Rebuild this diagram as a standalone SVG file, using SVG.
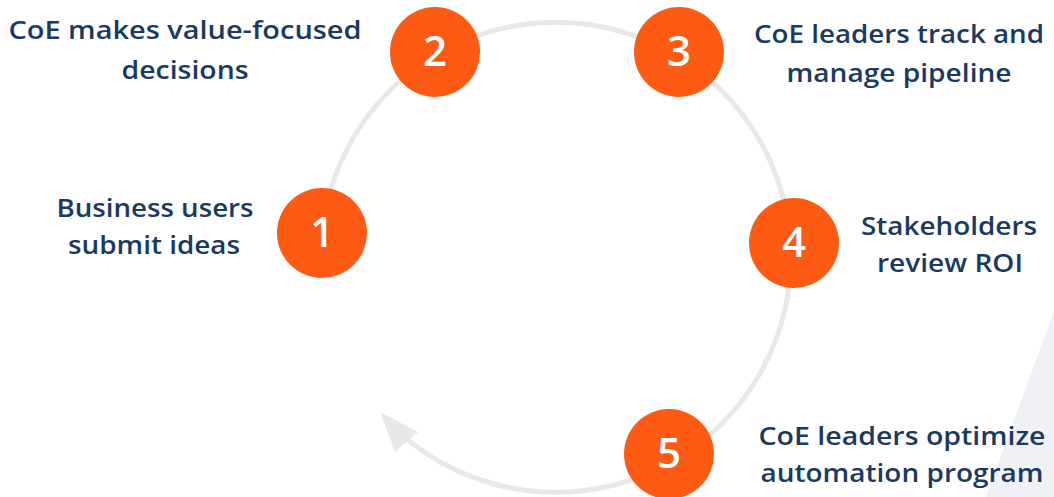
<svg xmlns="http://www.w3.org/2000/svg" width="1054" height="497" viewBox="0 0 1054 497">
  <style>
    .lbl { font-family: "Open Sans", "Liberation Sans", sans-serif; font-weight: 600; font-size: 26px; fill: #1a3a60; text-anchor: middle; }
    .num { font-family: "Open Sans", "Liberation Sans", sans-serif; font-weight: 600; font-size: 42px; fill: #ffffff; text-anchor: middle; }
    .dot { fill: #fd5a13; }
    .ring { fill: none; stroke: #e8e8e8; stroke-width: 5; }
  </style>
  <rect width="1054" height="497" fill="#ffffff"/>
  <polygon points="1054,311 986,497 1054,497" fill="#eff1f6"/>
  <g id="connectors">
    <path class="ring" d="M 322 233 A 235 235 0 1 1 408 440"/>
    <polygon points="380,412 395,452 418,432" fill="#e8e8e8"/>
  </g>
  <g id="node1">
    <circle class="dot" cx="322" cy="233" r="45"/>
    <text class="num" x="322" y="247">1</text>
    <text class="lbl" x="155" y="217" textLength="197" lengthAdjust="spacingAndGlyphs">Business users</text>
    <text class="lbl" x="154" y="254" textLength="172" lengthAdjust="spacingAndGlyphs">submit ideas</text>
  </g>
  <g id="node2">
    <circle class="dot" cx="435" cy="52" r="45"/>
    <text class="num" x="435" y="66">2</text>
    <text class="lbl" x="185" y="39" textLength="353" lengthAdjust="spacingAndGlyphs">CoE makes value-focused</text>
    <text class="lbl" x="185" y="79" textLength="127" lengthAdjust="spacingAndGlyphs">decisions</text>
  </g>
  <g id="node3">
    <circle class="dot" cx="679" cy="52" r="45"/>
    <text class="num" x="679" y="66">3</text>
    <text class="lbl" x="899" y="43" textLength="290" lengthAdjust="spacingAndGlyphs">CoE leaders track and</text>
    <text class="lbl" x="899" y="82" textLength="225" lengthAdjust="spacingAndGlyphs">manage pipeline</text>
  </g>
  <g id="node4">
    <circle class="dot" cx="794" cy="243" r="45"/>
    <text class="num" x="794" y="257">4</text>
    <text class="lbl" x="949" y="235" textLength="176" lengthAdjust="spacingAndGlyphs">Stakeholders</text>
    <text class="lbl" x="950" y="272" textLength="146" lengthAdjust="spacingAndGlyphs">review ROI</text>
  </g>
  <g id="node5">
    <circle class="dot" cx="669" cy="454" r="45"/>
    <text class="num" x="669" y="468">5</text>
    <text class="lbl" x="902" y="445" textLength="287" lengthAdjust="spacingAndGlyphs">CoE leaders optimize</text>
    <text class="lbl" x="902" y="482" textLength="283" lengthAdjust="spacingAndGlyphs">automation program</text>
  </g>
</svg>
